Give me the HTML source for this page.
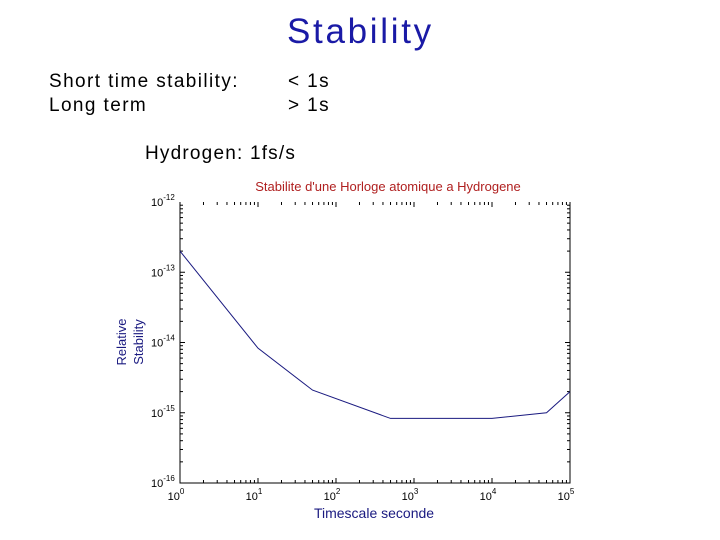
<!DOCTYPE html>
<html><head><meta charset="utf-8"><style>
body{margin:0;width:720px;height:540px;background:#fff;overflow:hidden;position:relative;font-family:"Liberation Sans",sans-serif}
.t{position:absolute;color:#000;letter-spacing:1.4px}
</style></head><body>
<div class="t" style="left:287px;top:12px;font-size:35px;color:#1a1aa6;letter-spacing:2.7px">Stability</div>
<div class="t" style="left:49px;top:71px;font-size:19px">Short time stability:</div>
<div class="t" style="left:49px;top:95px;font-size:19px">Long term</div>
<div class="t" style="left:288px;top:71px;font-size:19px">&lt; 1s</div>
<div class="t" style="left:288px;top:95px;font-size:19px">&gt; 1s</div>
<div class="t" style="left:145px;top:143px;font-size:19px;letter-spacing:1.2px">Hydrogen: 1fs/s</div>
<svg id="c" width="720" height="540" style="position:absolute;left:0;top:0" font-family="Liberation Sans, sans-serif"></svg>
<script>
const xs=[1,10,50,500,10000,50000,100000];
const ys=[2e-13,8.3e-15,2.1e-15,8.3e-16,8.3e-16,1.0e-15,2.0e-15];
const xTicks=[0,1,2,3,4,5];
const yTicks=[-12,-13,-14,-15,-16];
const L=180,R=570,T=202,B=483;
const sx=v=>L+(Math.log10(v))/5*(R-L);
const sy=v=>T+(-12-Math.log10(v))/4*(B-T);
const svg=document.getElementById('c');const NS='http://www.w3.org/2000/svg';
function mk(tag,a,txt){const e=document.createElementNS(NS,tag);for(const k in a)e.setAttribute(k,a[k]);if(txt!==undefined)e.textContent=txt;svg.appendChild(e);return e;}
let e;
e=mk('path',{d:`M${L},${T}V${B}H${R}V${T}`,fill:'none',stroke:'#000','stroke-width':1});


for(let d=0;d<5;d++)for(let m=1;m<10;m++){const x=sx(Math.pow(10,d)*m);const len=m==1?5:3;
mk('line',{x1:x,x2:x,y1:B,y2:B-len,stroke:'#000'});mk('line',{x1:x,x2:x,y1:T,y2:T+len,stroke:'#000'});}
for(let d=-16;d<-12;d++)for(let m=1;m<10;m++){const y=sy(Math.pow(10,d)*m);const len=m==1?5:3;
mk('line',{x1:L,x2:L+len,y1:y,y2:y,stroke:'#000'});mk('line',{x1:R,x2:R-len,y1:y,y2:y,stroke:'#000'});}
xTicks.forEach(p=>{e=mk('text',{x:sx(Math.pow(10,p))-4,y:B+17,'font-size':11,'text-anchor':'middle'});


e.innerHTML=`10<tspan dy="-6" font-size="8">${p}</tspan>`;});
yTicks.forEach(p=>{e=mk('text',{x:L-29,y:sy(Math.pow(10,p))+4,'font-size':11});


e.innerHTML=`10<tspan dy="-6" font-size="8">${p}</tspan>`;});
e=mk('polyline',{points:xs.map((x,i)=>sx(x)+','+sy(ys[i])).join(' '),fill:'none',stroke:'#1a1a80','stroke-width':1});


e=mk('text',{x:388,y:191,'font-size':13,fill:'#b02020','text-anchor':'middle'},"Stabilite d'une Horloge atomique a Hydrogene");


e=mk('text',{x:374,y:518,'font-size':14,fill:'#1a1a80','text-anchor':'middle'},'Timescale seconde');


e=mk('text',{x:0,y:0,'font-size':13,fill:'#1a1a80','text-anchor':'middle',transform:'translate(126,342) rotate(-90)'},'Relative');


e=mk('text',{x:0,y:0,'font-size':13,fill:'#1a1a80','text-anchor':'middle',transform:'translate(143,342) rotate(-90)'},'Stability');


</script>
</body></html>
